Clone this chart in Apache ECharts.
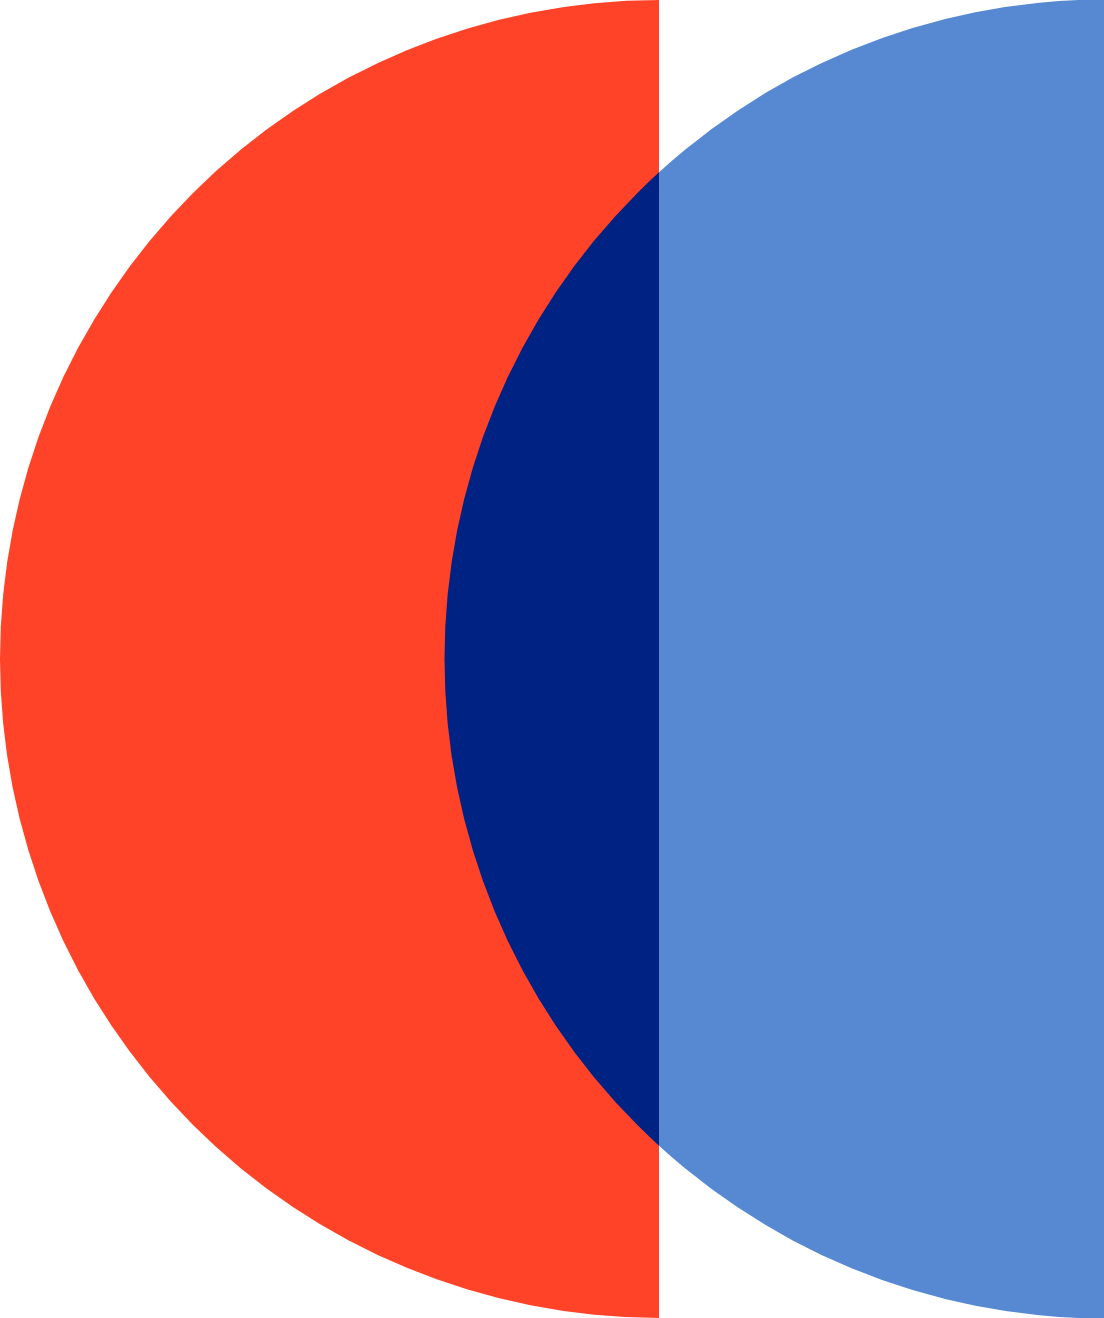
<!DOCTYPE html>
<html>
<head>
    <meta charset="UTF-8">
    <title>half circles</title>
    <script src="https://cdn.jsdelivr.net/npm/echarts@6/dist/echarts.min.js"></script>
    <style>
        html, body { margin: 0; padding: 0; background: #ffffff; }
    </style>
</head>
<body>
    <div id="main" style="width:1104px; height:1318px;"></div>
    <script>
        // canvas units: 1 unit = 1 px of the original picture
        var splitX = 659;          // the vertical cut between the two halves
        var rightEdge = 1104;
        var fullHeight = 1318;

        // the two circles: left (orange) and right (blue)
        var circleNames = ['left', 'right'];
        var centerX = [659, 1104];
        var centerY = [659, 659];
        var radius = [659, 659.5];

        // which circle is drawn on which side of the cut, and its colour there
        var leftSide = [
            {circle: 0, color: '#ff4328'},
            {circle: 1, color: '#002383'}
        ];
        var rightSide = [
            {circle: 1, color: '#5789d2'}
        ];

        function toData(list) {
            return list.map(function (d) {
                var i = d.circle;
                return {
                    name: circleNames[i],
                    value: [centerX[i], centerY[i], radius[i]],
                    itemStyle: {color: d.color}
                };
            });
        }

        function renderCircle(params, api) {
            var c = api.coord([api.value(0), api.value(1)]);
            var r = api.size([api.value(2), 0])[0];
            return {
                type: 'circle',
                shape: {cx: c[0], cy: c[1], r: r},
                style: {fill: api.visual('color')}
            };
        }

        var chart = echarts.init(document.getElementById('main'), null, {renderer: 'canvas'});

        var hiddenAxis = {show: false, axisLine: {show: false}, splitLine: {show: false}};

        chart.setOption({
            backgroundColor: '#ffffff',
            animation: false,
            grid: [
                {left: 0, top: 0, width: splitX, height: fullHeight},
                {left: splitX, top: 0, width: rightEdge - splitX, height: fullHeight}
            ],
            xAxis: [
                Object.assign({type: 'value', gridIndex: 0, min: 0, max: splitX}, hiddenAxis),
                Object.assign({type: 'value', gridIndex: 1, min: splitX, max: rightEdge}, hiddenAxis)
            ],
            yAxis: [
                Object.assign({type: 'value', gridIndex: 0, min: 0, max: fullHeight, inverse: true}, hiddenAxis),
                Object.assign({type: 'value', gridIndex: 1, min: 0, max: fullHeight, inverse: true}, hiddenAxis)
            ],
            series: [
                {
                    type: 'custom',
                    xAxisIndex: 0,
                    yAxisIndex: 0,
                    clip: true,
                    renderItem: renderCircle,
                    data: toData(leftSide)
                },
                {
                    type: 'custom',
                    xAxisIndex: 1,
                    yAxisIndex: 1,
                    clip: true,
                    renderItem: renderCircle,
                    data: toData(rightSide)
                }
            ]
        });
    </script>
</body>
</html>
